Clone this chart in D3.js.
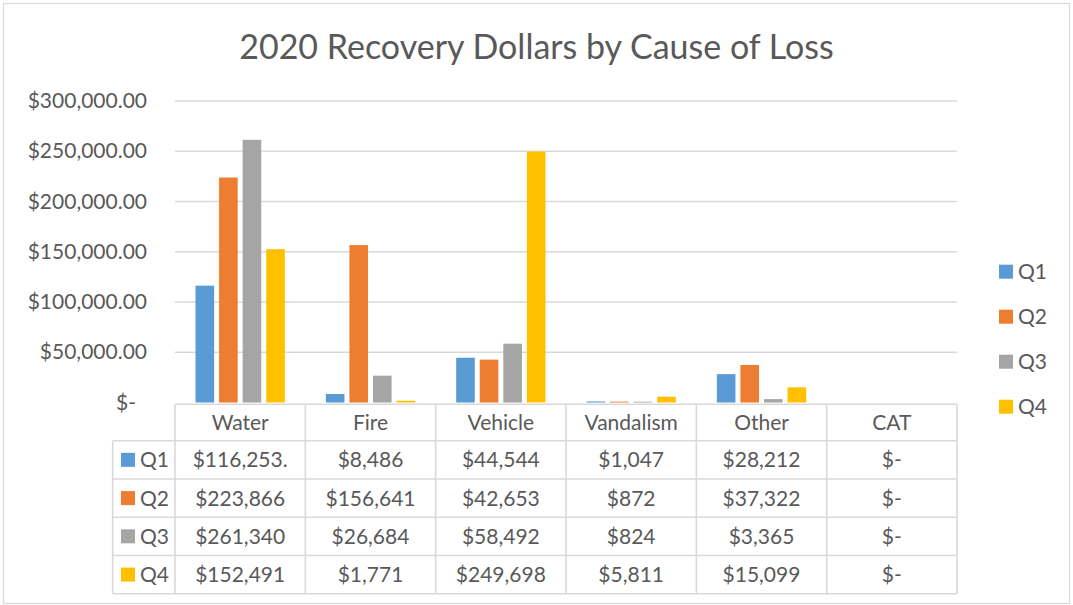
<!DOCTYPE html>
<html>
<head>
<meta charset="utf-8">
<script src="https://cdn.jsdelivr.net/npm/d3@7"></script>
<style>
  body { margin: 0; background: #fff; }
  text { font-family: Lato, 'Open Sans', sans-serif; fill: #595959; }
  .cell-line { stroke: #d9d9d9; stroke-width: 1.6; fill: none; }
</style>
</head>
<body>
<div id="app"></div>
<script>
const categories = ['Water', 'Fire', 'Vehicle', 'Vandalism', 'Other', 'CAT']
const series = ['Q1', 'Q2', 'Q3', 'Q4']
const q1 = [116253.4, 8486, 44544, 1047, 28212, 0]
const q2 = [223866, 156641, 42653, 872, 37322, 0]
const q3 = [261340, 26684, 58492, 824, 3365, 0]
const q4 = [152491, 1771, 249698, 5811, 15099, 0]
const yTicks = [0, 50000, 100000, 150000, 200000, 250000, 300000]

const palette = ['#5b9bd5', '#ed7d31', '#a5a5a5', '#ffc000']
const values = [q1, q2, q3, q4]

const W = 1073, H = 605
const plot = { left: 175, right: 957, top: 101, bottom: 402.5 }

const svg = d3.select('#app').append('svg')
  .attr('width', W).attr('height', H)

// chart frame
svg.append('rect')
  .attr('x', 3.5).attr('y', 3.5)
  .attr('width', W - 7).attr('height', H - 5)
  .attr('fill', '#fff').attr('stroke', '#d9d9d9').attr('stroke-width', 1.2)

// Title
svg.append('text')
  .attr('x', W / 2).attr('y', 59)
  .attr('text-anchor', 'middle')
  .style('font-size', '34px')
  .text('2020 Recovery Dollars by Cause of Loss')

const x0 = d3.scaleBand()
  .domain(categories)
  .range([plot.left, plot.right])

const x1 = d3.scaleBand()
  .domain(series)
  .range([0, x0.bandwidth()])
  .paddingInner(0.21)
  .paddingOuter(0.87)

const y = d3.scaleLinear()
  .domain([0, 300000])
  .range([plot.bottom, plot.top])

// Gridlines
svg.append('g')
  .selectAll('line')
  .data(yTicks.filter(d => d > 0))
  .join('line')
  .attr('x1', plot.left).attr('x2', plot.right)
  .attr('y1', d => y(d)).attr('y2', d => y(d))
  .attr('stroke', '#d9d9d9').attr('stroke-width', 1.3)

// Y axis
const fmtAxis = d3.format('$,.2f')
const yAxis = svg.append('g')
  .attr('transform', `translate(${plot.left},0)`)
  .call(d3.axisLeft(y).tickValues(yTicks).tickSize(0).tickPadding(28)
    .tickFormat(d => d === 0 ? '$-' : fmtAxis(d)))
yAxis.select('.domain').remove()
yAxis.selectAll('text')
  .style('font-size', '21px').style('font-family', null).attr('fill', '#595959')
  .filter(d => d === 0).attr('dx', -11)

// Bars
const groups = svg.append('g')
  .selectAll('g')
  .data(categories)
  .join('g')
  .attr('transform', c => `translate(${x0(c)},0)`)

groups.selectAll('rect')
  .data((c, ci) => series.map((s, si) => ({ s, si, v: values[si][ci] })))
  .join('rect')
  .attr('x', d => x1(d.s))
  .attr('y', d => y(d.v))
  .attr('width', x1.bandwidth())
  .attr('height', d => y(0) - y(d.v))
  .attr('fill', d => palette[d.si])

// Right legend
const legendY = d3.scalePoint().domain(series).range([271.7, 406.7])
const legend = svg.append('g')
  .selectAll('g')
  .data(series)
  .join('g')
  .attr('transform', s => `translate(999,${legendY(s)})`)
legend.append('rect')
  .attr('y', -7).attr('width', 14).attr('height', 14)
  .attr('fill', (_, i) => palette[i])
legend.append('text')
  .attr('x', 19).attr('dy', '0.36em')
  .style('font-size', '21px')
  .text(s => s)

// Data table
const tableTop = 404.3
const headerBottom = 440.7
const tableBottom = 593.7
const legendLeft = 112.7

const rowY = d3.scaleBand()
  .domain(series)
  .range([headerBottom, tableBottom])

const fmtCell = d3.format('$,.0f')
// Excel cuts off the cents when the number doesn't fit its cell
const cellText = v => v === 0 ? '$-'
  : Number.isInteger(v) ? fmtCell(v) : d3.format('$,.2f')(v).slice(0, -2)

const table = svg.append('g')

// header row (categories)
table.append('g')
  .selectAll('text')
  .data(categories)
  .join('text')
  .attr('x', c => x0(c) + x0.bandwidth() / 2)
  .attr('y', (tableTop + headerBottom) / 2)
  .attr('dy', '0.36em')
  .attr('text-anchor', 'middle')
  .style('font-size', '21px')
  .text(c => c)

// value cells
series.forEach((s, si) => {
  table.append('g')
    .selectAll('text')
    .data(values[si])
    .join('text')
    .attr('x', (_, ci) => x0(categories[ci]) + x0.bandwidth() / 2)
    .attr('y', rowY(s) + rowY.bandwidth() / 2)
    .attr('dy', '0.36em')
    .attr('text-anchor', 'middle')
    .style('font-size', '21px')
    .text(v => cellText(v))
})

// row legend keys
const rowKeys = table.append('g')
  .selectAll('g')
  .data(series)
  .join('g')
  .attr('transform', s => `translate(121,${rowY(s) + rowY.bandwidth() / 2})`)
rowKeys.append('rect')
  .attr('y', -7).attr('width', 14).attr('height', 14)
  .attr('fill', (_, i) => palette[i])
rowKeys.append('text')
  .attr('x', 19).attr('dy', '0.36em')
  .style('font-size', '21px')
  .text(s => s)

// table lines
const lines = table.append('g').attr('class', 'cell-line')
// horizontal
lines.append('line')
  .attr('x1', plot.left).attr('x2', plot.right)
  .attr('y1', tableTop).attr('y2', tableTop)
lines.selectAll('.hrow')
  .data(series)
  .join('line')
  .attr('x1', legendLeft).attr('x2', plot.right)
  .attr('y1', s => rowY(s)).attr('y2', s => rowY(s))
lines.append('line')
  .attr('x1', legendLeft).attr('x2', plot.right)
  .attr('y1', tableBottom).attr('y2', tableBottom)
// vertical
lines.selectAll('.vcol')
  .data(categories.concat(['end']))
  .join('line')
  .attr('x1', c => c === 'end' ? plot.right : x0(c))
  .attr('x2', c => c === 'end' ? plot.right : x0(c))
  .attr('y1', tableTop).attr('y2', tableBottom)
lines.append('line')
  .attr('x1', legendLeft).attr('x2', legendLeft)
  .attr('y1', headerBottom).attr('y2', tableBottom)
</script>
</body>
</html>
